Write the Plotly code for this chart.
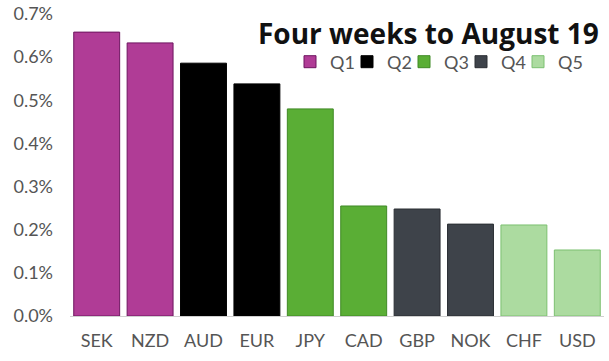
import plotly.graph_objects as go

categories = ["SEK", "NZD", "AUD", "EUR", "JPY", "CAD", "GBP", "NOK", "CHF", "USD"]
values = [0.658, 0.633, 0.586, 0.538, 0.480, 0.255, 0.248, 0.213, 0.211, 0.153]
groups = ["Q1", "Q1", "Q2", "Q2", "Q3", "Q3", "Q4", "Q4", "Q5", "Q5"]
group_names = ["Q1", "Q2", "Q3", "Q4", "Q5"]
fill_colors = {"Q1": "#b03c96", "Q2": "#000000", "Q3": "#5aae35", "Q4": "#3e434a", "Q5": "#acdba0"}
line_colors = {"Q1": "#6e1560", "Q2": "#000000", "Q3": "#3f8a25", "Q4": "#2a2e33", "Q5": "#7cc070"}

fig = go.Figure()
for g in group_names:
    xs = [c for c, gg in zip(categories, groups) if gg == g]
    ys = [v / 100 for v, gg in zip(values, groups) if gg == g]
    fig.add_trace(go.Bar(x=xs, y=ys, name=g,
                         marker=dict(color=fill_colors[g], line=dict(color=line_colors[g], width=1))))
# spacer entry so the last legend label is not clipped
fig.add_trace(go.Bar(x=[None], y=[None], name=" ", hoverinfo="skip",
                     marker=dict(color="rgba(0,0,0,0)", line=dict(width=0))))

font_family = "Lato, Open Sans, sans-serif"
fig.update_layout(
    width=609, height=361,
    margin=dict(l=70, r=5, t=14, b=45, autoexpand=False),
    paper_bgcolor="white", plot_bgcolor="white",
    barmode="relative", bargap=0.14,
    showlegend=True,
    legend=dict(orientation="h", x=(290 - 70) / 534, xanchor="left", y=1 - 48/302, yanchor="middle",
                font=dict(size=18, color="#555555", family=font_family),
                itemwidth=30, entrywidth=12, entrywidthmode="pixels",
                tracegroupgap=0, bgcolor="rgba(0,0,0,0)"),
    annotations=[dict(text="<b>Four weeks to August 19</b>", x=1.0, xref="paper", xanchor="right",
                      xshift=-3, y=1.0 - 19/302, yref="paper", yanchor="middle", showarrow=False,
                      font=dict(size=28, color="#111111", family="Open Sans, sans-serif"))],
    xaxis=dict(categoryorder="array", categoryarray=categories, showgrid=False,
               showline=True, linecolor="#d0d0d0", linewidth=1, ticks="", ticklabelstandoff=8,
               tickfont=dict(size=18, color="#555555", family=font_family)),
    yaxis=dict(range=[0, 0.007], dtick=0.001, tickformat=".1%", showgrid=False,
               zeroline=False, showline=False, ticks="", ticklabelstandoff=16,
               tickfont=dict(size=18, color="#555555", family=font_family)),
)
fig.write_html("out.html", config={"displayModeBar": False},
               post_script="document.body.style.margin='0';document.body.style.overflow='hidden';")
